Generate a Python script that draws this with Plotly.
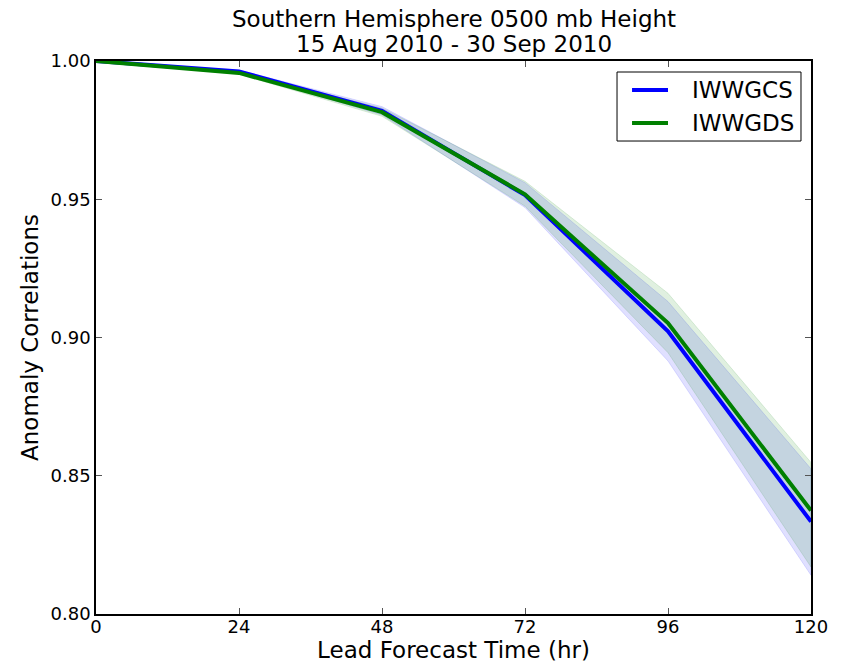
import plotly.graph_objects as go

lead_hours = [0, 24, 48, 72, 96, 120]
x_ticks = [0, 24, 48, 72, 96, 120]
y_ticks = [0.80, 0.85, 0.90, 0.95, 1.00]
y_tick_labels = ["0.80", "0.85", "0.90", "0.95", "1.00"]

iwwgcs_mean = [1.0, 0.9962, 0.9820, 0.9515, 0.9022, 0.8334]
iwwgcs_low = [1.0, 0.9957, 0.9805, 0.9470, 0.8915, 0.8140]
iwwgcs_high = [1.0, 0.9967, 0.9835, 0.9560, 0.9130, 0.8525]

iwwgds_mean = [1.0, 0.9957, 0.9815, 0.9518, 0.9052, 0.8374]
iwwgds_low = [1.0, 0.9952, 0.9800, 0.9475, 0.8945, 0.8170]
iwwgds_high = [1.0, 0.9962, 0.9830, 0.9565, 0.9160, 0.8548]

series_names = ["IWWGCS", "IWWGDS"]
line_colors = ["#0000ff", "#008000"]
fill_colors = ["rgba(0,0,255,0.12)", "rgba(0,128,0,0.12)"]

title_lines = ["Southern Hemisphere 0500 mb Height", "15 Aug 2010 - 30 Sep 2010"]

series = [
    (series_names[0], iwwgcs_mean, iwwgcs_low, iwwgcs_high, line_colors[0], fill_colors[0]),
    (series_names[1], iwwgds_mean, iwwgds_low, iwwgds_high, line_colors[1], fill_colors[1]),
]

font = "DejaVu Sans, Bitstream Vera Sans, sans-serif"

fig = go.Figure()
for name, mean, low, high, col, fillcol in series:
    fig.add_trace(go.Scatter(
        x=lead_hours + lead_hours[::-1], y=high + low[::-1],
        fill="toself", fillcolor=fillcol, mode="lines",
        line=dict(color=fillcol, width=1), showlegend=False, hoverinfo="skip"))
for name, mean, low, high, col, fillcol in series:
    fig.add_trace(go.Scatter(
        x=lead_hours, y=mean, mode="lines", name=name,
        line=dict(color=col, width=4), showlegend=False))

# Title (two lines) as annotations for precise line spacing
annotations = [
    dict(text=title_lines[0], x=0.5, y=1.076, xref="paper", yref="paper",
         xanchor="center", yanchor="middle", showarrow=False, font=dict(size=23)),
    dict(text=title_lines[1], x=0.5, y=1.0307, xref="paper", yref="paper",
         xanchor="center", yanchor="middle", showarrow=False, font=dict(size=23)),
]

# Legend drawn manually to match matplotlib layout
shapes = [dict(type="rect", xref="paper", yref="paper", x0=0.7287, x1=0.986,
               y0=0.8553, y1=0.9801, line=dict(color="black", width=1),
               fillcolor="white", layer="above")]
legend_y = [0.9476, 0.8879]
for i, name in enumerate(series_names):
    shapes.append(dict(type="line", xref="paper", yref="paper", x0=0.7497, x1=0.80,
                       y0=legend_y[i], y1=legend_y[i],
                       line=dict(color=line_colors[i], width=4), layer="above"))
    annotations.append(dict(text=name, x=0.8308, y=legend_y[i], xref="paper", yref="paper",
                            xanchor="left", yanchor="middle", showarrow=False,
                            font=dict(size=23)))

fig.update_layout(
    width=842, height=663,
    margin=dict(l=96, r=31, t=61, b=49),
    paper_bgcolor="white", plot_bgcolor="white",
    font=dict(family=font, color="black", size=18),
    showlegend=False,
    annotations=annotations,
    shapes=shapes,
)
fig.update_xaxes(range=[0, 120], tickvals=x_ticks, ticktext=[str(v) for v in x_ticks],
                 ticks="inside", ticklen=6, tickcolor="#555", mirror="ticks",
                 showline=True, linecolor="black", linewidth=1.5, showgrid=False,
                 zeroline=False, tickfont=dict(size=18), automargin=False,
                 ticklabelstandoff=-4,
                 title=dict(text="Lead Forecast Time (hr)", font=dict(size=23), standoff=4))
fig.update_yaxes(range=[0.80, 1.00], tickvals=y_ticks, ticktext=y_tick_labels,
                 ticks="inside", ticklen=6, tickcolor="#555", mirror="ticks",
                 showline=True, linecolor="black", linewidth=1.5, showgrid=False,
                 zeroline=False, tickfont=dict(size=18), automargin=False,
                 title=dict(text="Anomaly Correlations", font=dict(size=23), standoff=6))

fig.write_html("out.html", config={"displayModeBar": False},
               post_script="document.body.style.margin='0';")
